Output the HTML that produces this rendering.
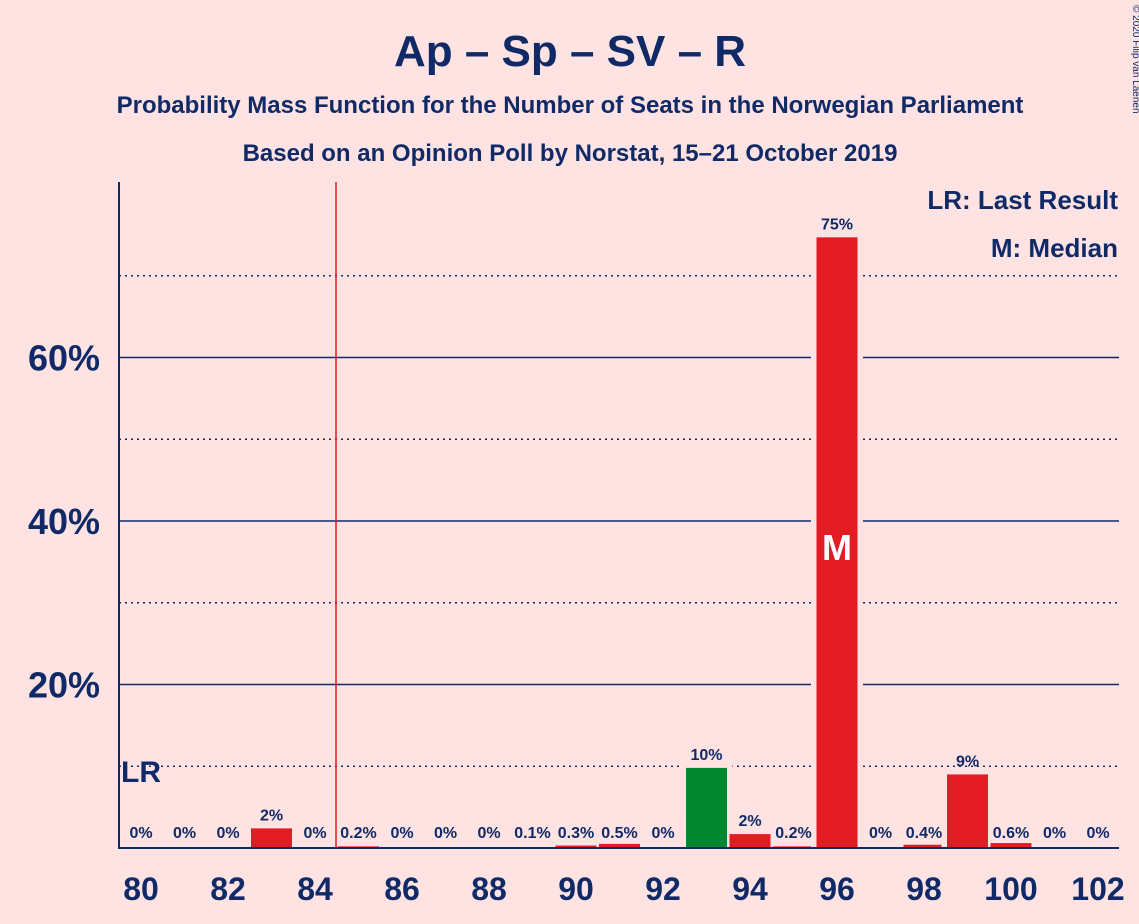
<!DOCTYPE html>
<html><head><meta charset="utf-8"><style>
html,body{margin:0;padding:0;background:#ffe3e3;}
svg{display:block;font-family:"Liberation Sans",sans-serif;}
</style></head><body>
<svg id="chart" width="1139" height="924">
<rect width="1139" height="924" fill="#ffe3e3"/>
<text x="570" y="66" text-anchor="middle" font-size="44" font-weight="bold" fill="#0f2a66">Ap – Sp – SV – R</text>
<text x="570" y="113" text-anchor="middle" font-size="24" font-weight="bold" fill="#0f2a66">Probability Mass Function for the Number of Seats in the Norwegian Parliament</text>
<text x="570" y="161" text-anchor="middle" font-size="24" font-weight="bold" fill="#0f2a66">Based on an Opinion Poll by Norstat, 15–21 October 2019</text>
<text x="1133" y="5" font-size="10" fill="#0f2a66" transform="rotate(90 1133 5)">© 2020 Filip van Laenen</text>
<g id="grid"></g>
<g id="bars"></g>
<g id="labels"></g>
<line x1="119" y1="182" x2="119" y2="849" stroke="#0f2a66" stroke-width="2"/>
<line x1="119" y1="848" x2="1119" y2="848" stroke="#0f2a66" stroke-width="2"/>
<line x1="336" y1="182" x2="336" y2="848" stroke="#e31b23" stroke-width="1.5"/>
<text x="1118" y="209" text-anchor="end" font-size="26" font-weight="bold" fill="#0f2a66">LR: Last Result</text>
<text x="1118" y="257" text-anchor="end" font-size="26" font-weight="bold" fill="#0f2a66">M: Median</text>
</svg>
<script>
const seats=[80,81,82,83,84,85,86,87,88,89,90,91,92,93,94,95,96,97,98,99,100,101,102];
const probs=[0,0,0,2.4,0,0.2,0,0,0,0.1,0.3,0.5,0,9.8,1.7,0.2,74.7,0,0.4,9,0.6,0,0];
const labelsTxt=["0%","0%","0%","2%","0%","0.2%","0%","0%","0%","0.1%","0.3%","0.5%","0%","10%","2%","0.2%","75%","0%","0.4%","9%","0.6%","0%","0%"];
const yTicks=[20,40,60];
const yDotted=[10,30,50,70];
const xTicks=[80,82,84,86,88,90,92,94,96,98,100,102];
const lastResult=80, median=96;
const NS="http://www.w3.org/2000/svg";
const X=s=>141+(s-80)*43.5;
const Y=p=>848-p*8.175;
function mk(t,a,parent){const e=document.createElementNS(NS,t);for(const k in a)e.setAttribute(k,a[k]);document.getElementById(parent).appendChild(e);return e;}
yDotted.forEach(v=>{const l=mk('line',{x1:119,x2:1119,y1:Y(v),y2:Y(v),stroke:'#0f2a66','stroke-width':1.5,'stroke-dasharray':'2,4'},'grid');

});
yTicks.forEach(v=>{const l=mk('line',{x1:119,x2:1119,y1:Y(v),y2:Y(v),stroke:'#0f2a66','stroke-width':1.5},'grid');


const t=mk('text',{x:100,y:Y(v)+13,'text-anchor':'end','font-size':36,'font-weight':'bold',fill:'#0f2a66'},'labels');t.textContent=v+'%';

});
xTicks.forEach(s=>{const t=mk('text',{x:X(s),y:900,'text-anchor':'middle','font-size':32,'font-weight':'bold',fill:'#0f2a66'},'labels');t.textContent=s;

});
seats.forEach((s,i)=>{const p=probs[i];const h=848-Y(p);
if(p>0){
if(h>20){const bg=mk('rect',{x:X(s)-26,y:Y(p)-3,width:52,height:h+3,fill:'#ffe3e3'},'bars');

}
const r=mk('rect',{x:X(s)-20.5,y:Y(p),width:41,height:h,fill:s===93?'#00872f':'#e31b23'},'bars');

}
const ly=Math.min(Y(p)-6,838);
const t=mk('text',{x:X(s),y:p>1?Y(p)-8:838,'text-anchor':'middle','font-size':16,'font-weight':'bold',fill:'#0f2a66'},'labels');t.textContent=labelsTxt[i];

});
const m=mk('text',{x:X(median),y:560,'text-anchor':'middle','font-size':36,'font-weight':'bold',fill:'#ffffff'},'labels');m.textContent='M';


const lr=mk('text',{x:X(lastResult)-20,y:782,'font-size':30,'font-weight':'bold',fill:'#0f2a66'},'labels');lr.textContent='LR';


</script>
</body></html>
